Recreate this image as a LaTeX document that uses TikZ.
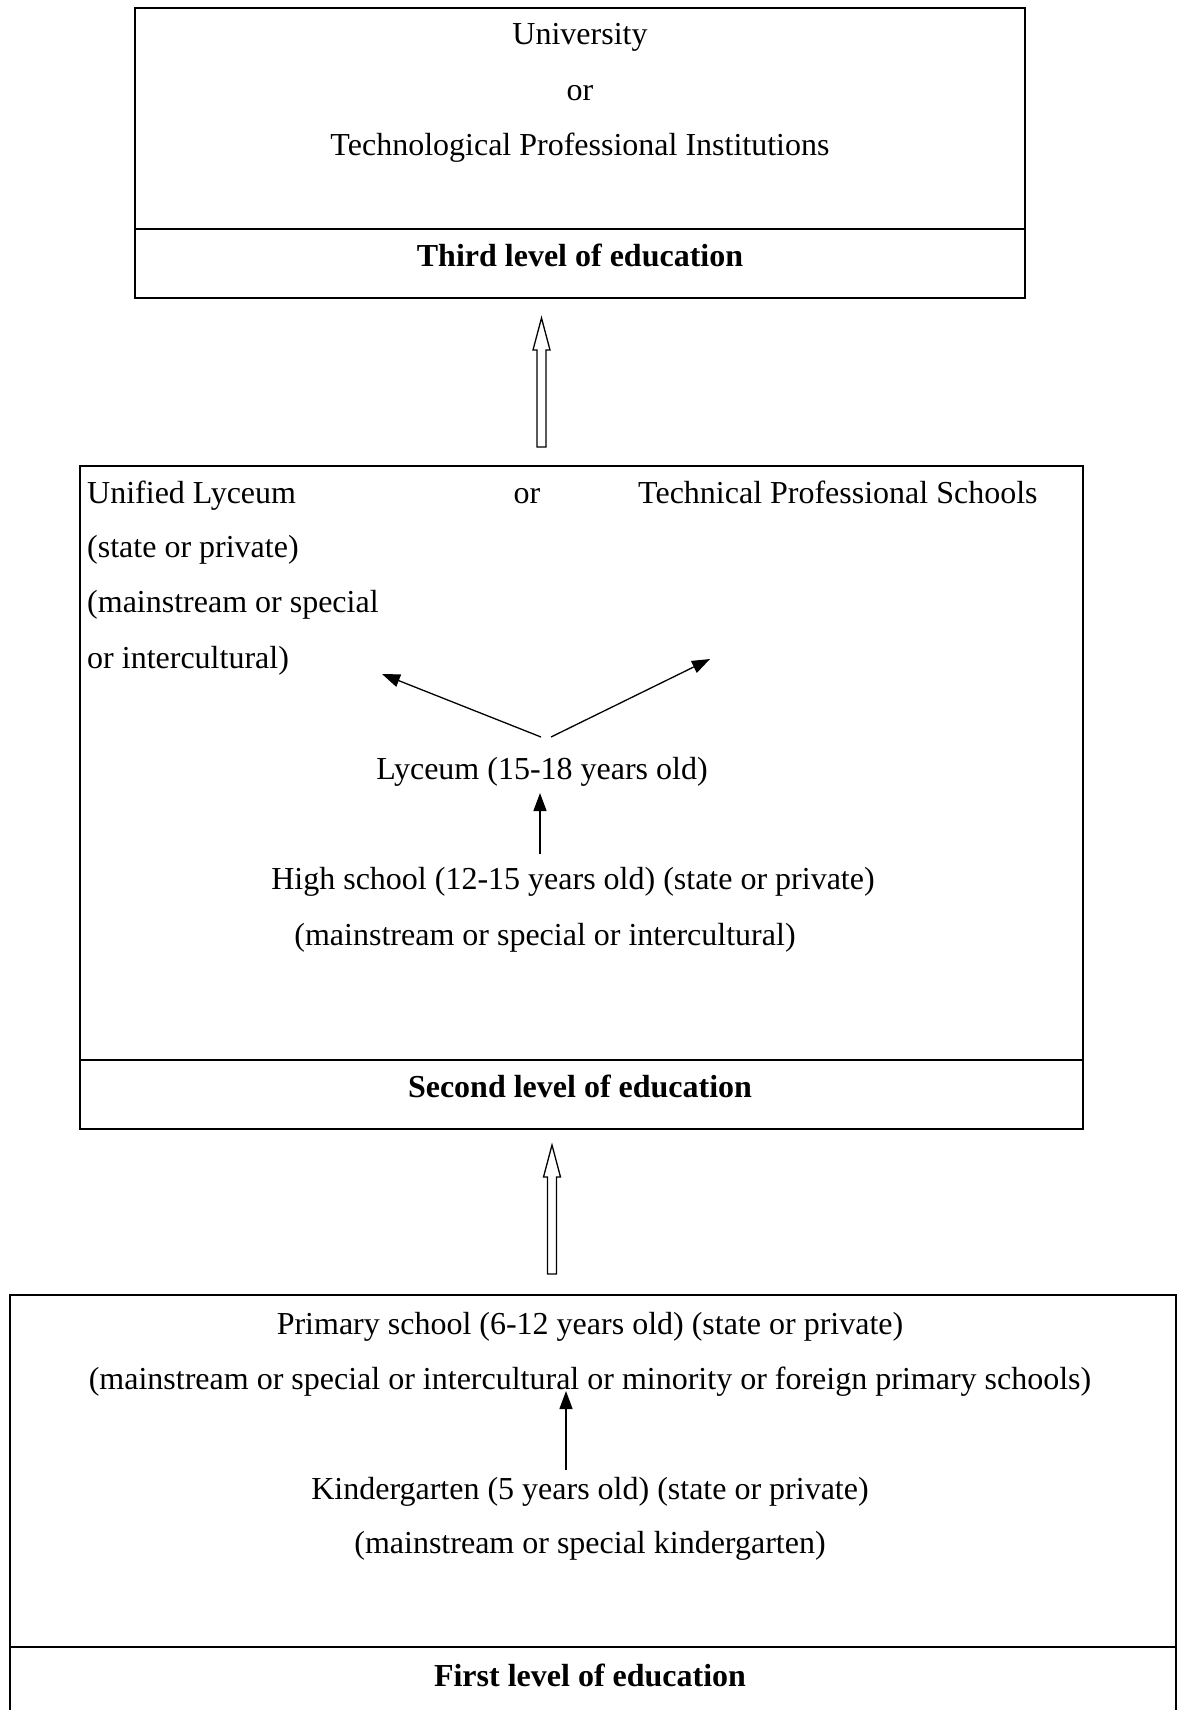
\documentclass[tikz,border=0pt]{standalone}
\usepackage{fontspec}
\setmainfont{Liberation Serif}
\usetikzlibrary{arrows.meta}
\begin{document}
\begin{tikzpicture}[x=1pt,y=-1pt,
  lw/.style={line width=1.3pt},
  txt/.style={inner sep=0pt, font=\fontsize{32}{38}\selectfont},
  btxt/.style={inner sep=0pt, font=\fontsize{32}{38}\selectfont\bfseries},
  sarrow/.style={lw, -{Triangle[length=18pt,width=13pt]}},
  hollow/.style={line width=1.3pt, fill=white, line join=miter}]
\useasboundingbox (0,0) rectangle (1177,1710);
% boxes
\node[draw, lw, minimum width=890pt, minimum height=290pt, inner sep=0pt] (topbox) at (580,153) {};
\draw[lw] (135,229) -- (1025,229);
\node[draw, lw, minimum width=1003pt, minimum height=663pt, inner sep=0pt] (midbox) at (581.5,797.5) {};
\draw[lw] (80,1060) -- (1083,1060);
\draw[lw] (10,1712) -- (10,1295) -- (1176,1295) -- (1176,1712);
\draw[lw] (10,1647) -- (1176,1647);
% top texts
\node[txt, anchor=base] (univ) at (580,45) {University};
\node[txt, anchor=base] (or1) at (580,100) {or};
\node[txt, anchor=base] (tpi) at (580,155) {Technological Professional Institutions};
\node[btxt, anchor=base] (third) at (580,266) {Third level of education};
% middle texts
\node[txt, anchor=base west] (ul) at (87,503) {Unified Lyceum};
\node[txt, anchor=base] (or2) at (527,503) {or};
\node[txt, anchor=base west] (tps) at (638,503) {Technical Professional Schools};
\node[txt, anchor=base west] (sp1) at (87,557) {(state or private)};
\node[txt, anchor=base west] (ms1) at (87,612) {(mainstream or special};
\node[txt, anchor=base west] (ic1) at (87,668) {or intercultural)};
\node[txt, anchor=base] (lyc) at (542,779) {Lyceum (15-18 years old)};
\node[txt, anchor=base] (hs) at (573,889) {High school (12-15 years old) (state or private)};
\node[txt, anchor=base] (ms2) at (545,945) {(mainstream or special or intercultural)};
\node[btxt, anchor=base] (second) at (580,1097) {Second level of education};
% bottom texts
\node[txt, anchor=base] (prim) at (590,1334) {Primary school (6-12 years old) (state or private)};
\node[txt, anchor=base] (ms3) at (590,1389) {(mainstream or special or intercultural or minority or foreign primary schools)};
\node[txt, anchor=base] (kg) at (590,1499) {Kindergarten (5 years old) (state or private)};
\node[txt, anchor=base] (ms4) at (590,1553) {(mainstream or special kindergarten)};
\node[btxt, anchor=base] (first) at (590,1686) {First level of education};
% thin arrows
\coordinate (lyL) at (541,737);
\coordinate (lyR) at (551,737);
\coordinate (endL) at (382,674);
\coordinate (endR) at (710,659);
\draw[sarrow] (lyL) -- (endL);
\draw[sarrow] (lyR) -- (endR);
\coordinate (hsTop) at (540,854);
\coordinate (lyBot) at (540,793);
\draw[sarrow] (hsTop) -- (lyBot);
\coordinate (kgTop) at (566,1470);
\coordinate (prBot) at (566,1391);
\draw[sarrow] (kgTop) -- (prBot);
% hollow arrows
\coordinate (h1) at (541.5,447);
\draw[hollow] (h1) -- ++(-4.5,0) -- ++(0,-97) -- ++(-4,0) -- ++(8.5,-32) -- ++(8.5,32) -- ++(-4,0) -- ++(0,97) -- cycle;
\coordinate (h2) at (552,1274);
\draw[hollow] (h2) -- ++(-4.5,0) -- ++(0,-97) -- ++(-4,0) -- ++(8.5,-32) -- ++(8.5,32) -- ++(-4,0) -- ++(0,97) -- cycle;
\end{tikzpicture}
\end{document}
